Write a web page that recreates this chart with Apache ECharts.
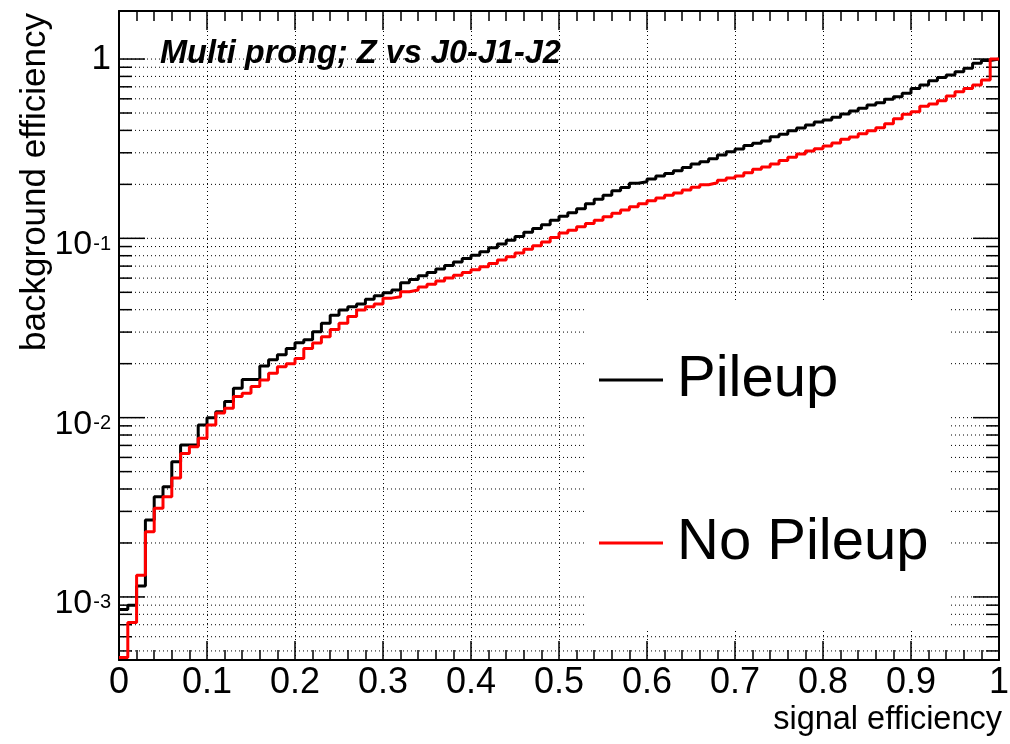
<!DOCTYPE html>
<html><head><meta charset="utf-8">
<script src="https://cdn.jsdelivr.net/npm/echarts@6/dist/echarts.min.js"></script>
<style>html,body{margin:0;padding:0;background:#fff}#c{width:1010px;height:744px}</style>
</head><body><div id="c"></div>
<script>
// ---- data ----
const binWidth = 0.01; // signal-efficiency bin width, 100 bins from 0 to 1
const seriesNames = ['Pileup', 'No Pileup'];
const pileup = [
  8.5e-4, 9.0e-4, 1.15e-3, 2.69e-3, 3.62e-3, 4.12e-3, 5.68e-3, 7.03e-3, 7.03e-3, 9.1e-3,
  1.0e-2, 1.08e-2, 1.23e-2, 1.46e-2, 1.63e-2, 1.63e-2, 1.94e-2, 2.10e-2, 2.24e-2, 2.43e-2,
  2.62e-2, 2.72e-2, 3.01e-2, 3.36e-2, 3.73e-2, 3.98e-2, 4.16e-2, 4.30e-2, 4.57e-2, 4.79e-2,
  4.97e-2, 5.15e-2, 5.65e-2, 0.0590, 0.0618, 0.0645, 0.0675, 0.0705, 0.0738, 0.0772,
  0.0805, 0.0842, 0.0885, 0.0930, 0.0975, 0.1025, 0.108, 0.1135, 0.119, 0.126,
  0.133, 0.139, 0.146, 0.156, 0.165, 0.174, 0.184, 0.192, 0.203, 0.207,
  0.214, 0.223, 0.230, 0.238, 0.248, 0.260, 0.267, 0.278, 0.292, 0.304,
  0.315, 0.329, 0.339, 0.349, 0.369, 0.381, 0.398, 0.412, 0.429, 0.445,
  0.457, 0.473, 0.493, 0.513, 0.531, 0.554, 0.570, 0.596, 0.616, 0.644,
  0.686, 0.716, 0.757, 0.790, 0.814, 0.850, 0.887, 0.946, 0.980, 1.0
];
const noPileup = [
  4.6e-4, 7.2e-4, 1.32e-3, 2.31e-3, 3.12e-3, 3.62e-3, 4.6e-3, 6.32e-3, 6.89e-3, 7.67e-3,
  9.1e-3, 1.06e-2, 1.13e-2, 1.31e-2, 1.37e-2, 1.49e-2, 1.62e-2, 1.77e-2, 1.92e-2, 2.0e-2,
  2.14e-2, 2.43e-2, 2.61e-2, 2.83e-2, 3.10e-2, 3.36e-2, 3.66e-2, 3.98e-2, 4.16e-2, 4.30e-2,
  4.64e-2, 4.72e-2, 5.04e-2, 0.0515, 0.0535, 0.0555, 0.0578, 0.0600, 0.0622, 0.0645,
  0.0668, 0.0695, 0.0725, 0.0758, 0.079, 0.0828, 0.087, 0.091, 0.0955, 0.101,
  0.107, 0.111, 0.116, 0.121, 0.126, 0.132, 0.138, 0.144, 0.150, 0.156,
  0.162, 0.168, 0.174, 0.179, 0.186, 0.193, 0.199, 0.204, 0.211, 0.217,
  0.223, 0.232, 0.243, 0.250, 0.260, 0.272, 0.283, 0.295, 0.307, 0.316,
  0.327, 0.340, 0.357, 0.367, 0.383, 0.398, 0.414, 0.436, 0.465, 0.492,
  0.508, 0.545, 0.561, 0.586, 0.622, 0.657, 0.686, 0.716, 0.764, 1.0
];
const xRange = [0, 1];
const xInterval = 0.1;
const yRange = [4.45e-4, 1.853];
const yDecades = [1e-4, 1e-3, 1e-2, 1e-1, 1];
const yMultipliers = [1, 2, 3, 4, 5, 6, 7, 8, 9];
const titleText = 'Multi prong; Z vs J0-J1-J2';
const xTitle = 'signal efficiency';
const yTitle = 'background efficiency';

// ---- helpers ----
const SANS = "'Liberation Sans', Arial, Helvetica, sans-serif";
function isPow10(v) { const l = Math.log10(v); return Math.abs(l - Math.round(l)) < 1e-6; }
function histPoints(vals) {
  const pts = vals.map((v, i) => [+(i * binWidth).toFixed(4), v]);
  pts.push([+(vals.length * binWidth).toFixed(4), vals[vals.length - 1]]);
  return pts;
}
const yGridValues = [];
yDecades.forEach(d => yMultipliers.forEach(m => {
  const v = Number((m * d).toPrecision(6));
  if (v >= yRange[0] && v <= yRange[1]) yGridValues.push(v);
}));

const chart = echarts.init(document.getElementById('c'), null, { renderer: 'canvas' });
const frame = { show: true, onZero: false, lineStyle: { color: '#000', width: 2 } };
const xTick = { show: true, inside: true, length: 19, lineStyle: { color: '#000', width: 1.5 } };
const xMinor = { show: true, splitNumber: 5, length: 10, lineStyle: { color: '#000', width: 1.5 } };

chart.setOption({
  animation: false,
  backgroundColor: '#fff',
  title: {
    text: titleText, left: 160, top: 38, padding: 0,
    textStyle: { fontFamily: SANS, fontSize: 32.5, fontWeight: 'bold', fontStyle: 'italic', color: '#000' }
  },
  grid: { left: 119, right: 11, top: 11, bottom: 84, containLabel: false, outerBoundsMode: 'none' },
  legend: {
    data: seriesNames, orient: 'vertical', left: 599, top: 351, padding: 0,
    itemGap: 105, icon: 'rect', itemWidth: 64, itemHeight: 3, selectedMode: false,
    textStyle: { fontFamily: SANS, fontSize: 58, lineHeight: 58, color: '#000', padding: [0, 0, 0, 9] }
  },
  graphic: [{
    type: 'rect', left: 585, top: 300, z: 3, silent: true,
    shape: { width: 365, height: 330 }, style: { fill: '#fff' }
  }, {
    type: 'text', x: 35, y: 13, rotation: Math.PI / 2, silent: true,
    style: { text: yTitle, fontFamily: SANS, fontSize: 35, fill: '#000', align: 'right', verticalAlign: 'middle' }
  }],
  xAxis: [{
    type: 'value', min: xRange[0], max: xRange[1], interval: xInterval, position: 'bottom',
    axisLine: frame, axisTick: xTick, minorTick: xMinor,
    splitLine: { show: true, lineStyle: { color: '#000', width: 1, type: [1, 3] } },
    axisLabel: { fontFamily: SANS, fontSize: 36, color: '#000', margin: 5 },
    name: xTitle, nameLocation: 'end', nameGap: 3, nameMoveOverlap: false,
    nameTextStyle: { fontFamily: SANS, fontSize: 32.5, color: '#000', align: 'right', verticalAlign: 'top', padding: [44, 0, 0, 0] }
  }, {
    type: 'value', min: xRange[0], max: xRange[1], interval: xInterval, position: 'top',
    axisLine: frame, axisTick: xTick, minorTick: xMinor,
    splitLine: { show: false }, axisLabel: { show: false }
  }],
  yAxis: [{
    type: 'log', min: yRange[0], max: yRange[1], position: 'left',
    axisLine: frame, axisTick: { show: false }, splitLine: { show: false },
    axisLabel: {
      margin: 8, color: '#000', fontFamily: SANS, fontSize: 34,
      showMinLabel: false, showMaxLabel: false,
      formatter: function (v) {
        if (!isPow10(v)) return '';
        const e = Math.round(Math.log10(v));
        if (e === 0) return '{o|1}';
        return '{b|10}{s|' + e + '}';
      },
      rich: {
        o: { fontFamily: SANS, fontSize: 35, lineHeight: 35, color: '#000' },
        b: { fontFamily: SANS, fontSize: 34, lineHeight: 34, padding: [13, 0, 0, 0], color: '#000' },
        s: { fontFamily: SANS, fontSize: 20, lineHeight: 20, padding: [13, 0, 0, 1], verticalAlign: 'top', color: '#000' }
      }
    }
  }, {
    type: 'log', min: yRange[0], max: yRange[1], position: 'right',
    axisLine: frame, axisTick: { show: false }, splitLine: { show: false }, axisLabel: { show: false }
  }],
  series: [{
    type: 'custom', name: 'ygrid', z: 1, silent: true, xAxisIndex: 0, yAxisIndex: 0,
    data: yGridValues.map(v => [xRange[0], v]),
    encode: { x: 0, y: 1 },
    renderItem: function (params, api) {
      const v = api.value(1);
      const p0 = api.coord([xRange[0], v]);
      const p1 = api.coord([xRange[1], v]);
      const L = isPow10(v) ? 26 : 13;
      return {
        type: 'group', children: [
          { type: 'line', shape: { x1: p0[0], y1: p0[1], x2: p1[0], y2: p1[1] }, style: { stroke: '#000', lineWidth: 1, lineDash: [1, 3] } },
          { type: 'line', shape: { x1: p0[0], y1: p0[1], x2: p0[0] + L, y2: p0[1] }, style: { stroke: '#000', lineWidth: 1.5 } },
          { type: 'line', shape: { x1: p1[0] - L, y1: p1[1], x2: p1[0], y2: p1[1] }, style: { stroke: '#000', lineWidth: 1.5 } }
        ]
      };
    }
  }, {
    type: 'line', name: seriesNames[0], data: histPoints(pileup), step: 'end', symbol: 'none',
    color: '#000', itemStyle: { color: '#000' }, lineStyle: { color: '#000', width: 3 }, z: 2
  }, {
    type: 'line', name: seriesNames[1], data: histPoints(noPileup), step: 'end', symbol: 'none',
    color: '#ff0000', itemStyle: { color: '#ff0000' }, lineStyle: { color: '#ff0000', width: 3 }, z: 2
  }]
});
</script></body></html>
